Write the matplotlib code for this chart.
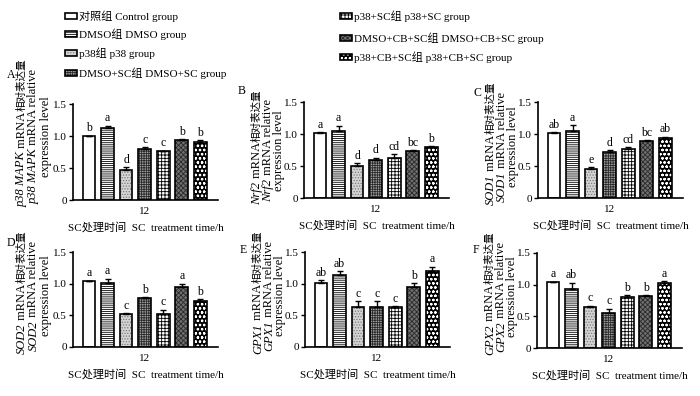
import numpy as np
import matplotlib
matplotlib.use('Agg')
import matplotlib.pyplot as plt
from matplotlib.patches import Rectangle

FAM = ['Liberation Serif', 'Noto Sans CJK SC']
plt.rcParams['font.family'] = FAM
plt.rcParams['hatch.linewidth'] = 0.6

W, H = 700, 396

groups_cn = ['对照组', 'DMSO组', 'p38组', 'DMSO+SC组',
             'p38+SC组', 'DMSO+CB+SC组', 'p38+CB+SC组']
groups_en = ['Control group', 'DMSO group', 'p38 group', 'DMSO+SC group',
             'p38+SC group', 'DMSO+CB+SC group', 'p38+CB+SC group']

genes = ['p38 MAPK', 'Nrf2', 'SOD1', 'SOD2', 'GPX1', 'GPX2']
tags = ['A', 'B', 'C', 'D', 'E', 'F']

# mean, upper error, significance letters (one list per gene)
mapk_vals = [1.00, 1.12, 0.47, 0.79, 0.76, 0.94, 0.91]
mapk_err = [0.005, 0.04, 0.04, 0.04, 0.01, 0.01, 0.03]
mapk_sig = ['b', 'a', 'd', 'c', 'c', 'b', 'b']

nrf2_vals = [1.02, 1.05, 0.50, 0.59, 0.63, 0.73, 0.80]
nrf2_err = [0.01, 0.08, 0.05, 0.04, 0.05, 0.02, 0.01]
nrf2_sig = ['a', 'a', 'd', 'd', 'cd', 'bc', 'b']

sod1_vals = [1.02, 1.05, 0.46, 0.72, 0.76, 0.89, 0.93]
sod1_err = [0.01, 0.09, 0.02, 0.03, 0.03, 0.01, 0.03]
sod1_sig = ['ab', 'a', 'e', 'd', 'cd', 'bc', 'ab']

sod2_vals = [1.04, 1.01, 0.52, 0.77, 0.52, 0.95, 0.73]
sod2_err = [0.01, 0.07, 0.02, 0.02, 0.07, 0.05, 0.03]
sod2_sig = ['a', 'a', 'c', 'b', 'c', 'a', 'b']

gpx1_vals = [1.01, 1.14, 0.63, 0.63, 0.63, 0.94, 1.20]
gpx1_err = [0.05, 0.06, 0.09, 0.09, 0.01, 0.07, 0.07]
gpx1_sig = ['ab', 'ab', 'c', 'c', 'c', 'b', 'a']

gpx2_vals = [1.04, 0.93, 0.64, 0.55, 0.81, 0.82, 1.02]
gpx2_err = [0.01, 0.10, 0.03, 0.07, 0.02, 0.02, 0.04]
gpx2_sig = ['a', 'ab', 'c', 'c', 'b', 'b', 'a']

all_vals = [mapk_vals, nrf2_vals, sod1_vals, sod2_vals, gpx1_vals, gpx2_vals]
all_err = [mapk_err, nrf2_err, sod1_err, sod2_err, gpx1_err, gpx2_err]
all_sig = [mapk_sig, nrf2_sig, sod1_sig, sod2_sig, gpx1_sig, gpx2_sig]

# fill colour, hatch, hatch colour per group
styles = [
    ('white', '', 'black'),
    ('white', '--------', 'black'),
    ('#d4d4d4', '......', '#7a7a7a'),
    ('#a0a0a0', '+++++++', '#2a2a2a'),
    ('white', '+++++', 'black'),
    ('#707070', 'xxxxxxx', '#2a2a2a'),
    ('black', 'oooo', 'white'),
]

# axes boxes in pixels: left, y of 1.5, y of 0
boxes = [(73, 104, 200), (304, 102, 198), (538, 102, 198),
         (73, 252, 347), (305, 252, 347), (537, 253, 348)]
tag_pos = [(7, 75), (238, 91), (473, 93), (7, 243), (240, 250), (473, 250)]
AXW = 145

fig = plt.figure(figsize=(W / 100, H / 100), dpi=100)
renderer = fig.canvas.get_renderer()


def fx(px):
    return px / W


def fy(py):
    return 1 - py / H


def vline(xc, y0, pieces, centre=False):
    # rotated label made of pieces (text, style, size); y0 is its bottom end,
    # or its centre if centre=True (pixels). returns the centre.
    objs = []
    for s, st, sz in pieces:
        t = fig.text(fx(xc + 3), 0, s, rotation=90, rotation_mode='anchor',
                     ha='left', va='baseline', fontsize=sz, style=st)
        objs.append(t)
    lens = [t.get_window_extent(renderer).height for t in objs]
    gap = 0.5
    total = sum(lens) + gap * (len(objs) - 1)
    y = y0 + total / 2 if centre else y0
    mid = y - total / 2
    for t, ln in zip(objs, lens):
        t.set_y(fy(y))
        y -= ln + gap
    return mid


x = np.arange(7)
for k in range(6):
    left, top, zero = boxes[k]
    ax = fig.add_axes([fx(left), fy(zero), AXW / W, (zero - top) / H])
    vals = all_vals[k]
    err = all_err[k]
    for i in range(7):
        face, hatch, hc = styles[i]
        ax.bar(x[i], vals[i], 0.68, color=face, edgecolor=hc, hatch=hatch, linewidth=0)
        ax.bar(x[i], vals[i], 0.68, fill=False, edgecolor='black', linewidth=1.2)
    ax.errorbar(x, vals, yerr=[np.zeros(7), err], fmt='none', ecolor='black',
                elinewidth=1, capsize=2.2, capthick=1)
    for i in range(7):
        ax.text(x[i], vals[i] + err[i] + 0.02, all_sig[k][i], ha='center', va='bottom',
                fontsize=8.5, clip_on=False)
    ax.set_xlim(-0.86, 6.95)
    ax.set_ylim(0, 1.5)
    ax.set_yticks([0, 0.5, 1.0, 1.5])
    ax.set_yticklabels(['0', '0.5', '1.0', '1.5'], fontsize=8)
    ax.set_xticks([3])
    ax.set_xticklabels(['12'], fontsize=8)
    ax.tick_params(axis='x', length=0, pad=5)
    ax.tick_params(axis='y', length=3, width=1, pad=1.5)
    for s in ['top', 'right']:
        ax.spines[s].set_visible(False)
    for s in ['left', 'bottom']:
        ax.spines[s].set_linewidth(1.2)
    ax.set_xlabel('SC处理时间  SC  treatment time/h', fontsize=8, labelpad=4)

    g = genes[k]
    offs = (-51, -39.5, -27.5) if k % 3 == 0 else (-47, -36, -25)
    vline(left + offs[0], zero + 7, [(g, 'italic', 9), (' mRNA', 'normal', 9),
                                     ('相对表达量', 'normal', 7.6)])
    mid = vline(left + offs[1], zero + 4, [(g, 'italic', 9), (' mRNA relative', 'normal', 9)])
    vline(left + offs[2], mid, [('expression level', 'normal', 9)], centre=True)
    fig.text(fx(tag_pos[k][0]), fy(tag_pos[k][1]), tags[k], fontsize=8.5,
             ha='left', va='center')

# legend
leg_left = [(65, 16), (65, 34), (65, 53), (65, 73)]
leg_right = [(340, 16), (340, 38), (340, 57)]
for i, (px, py) in enumerate(leg_left + leg_right):
    face, hatch, hc = styles[i]
    r1 = Rectangle((fx(px), fy(py + 3)), 12 / W, 6 / H, transform=fig.transFigure,
                   facecolor=face, edgecolor=hc, hatch=hatch, linewidth=0)
    r2 = Rectangle((fx(px), fy(py + 3)), 12 / W, 6 / H, transform=fig.transFigure,
                   fill=False, edgecolor='black', linewidth=1.2)
    fig.add_artist(r1)
    fig.add_artist(r2)
    fig.text(fx(px + 14), fy(py), groups_cn[i] + ' ' + groups_en[i], fontsize=8,
             ha='left', va='center')

fig.savefig('out.png', dpi=100)
